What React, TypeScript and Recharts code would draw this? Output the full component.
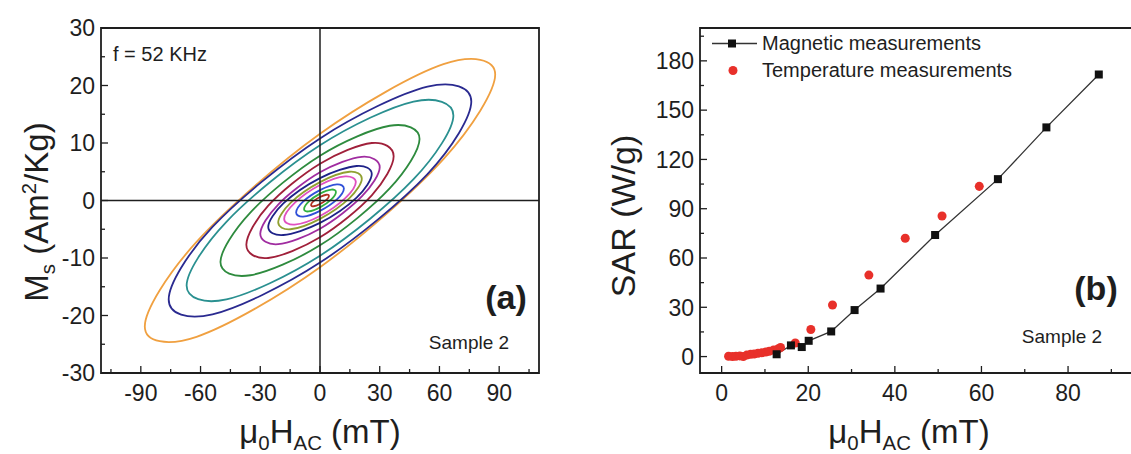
import React from "react";
import {
  ComposedChart,
  Line,
  Scatter,
  XAxis,
  YAxis,
  ReferenceLine,
  ReferenceArea,
  Legend,
} from "recharts";

// (a) M-H loops at f = 52 kHz, outermost loop first. [H (mT), M (Am2/Kg)]
const loopOrange = [[88, 21.9], [62, 23.7], [0, 11.6], [-62, -7.2], [-88, -21.9], [-62, -23.7], [0, -11.6], [62, 7.2]];
const loopNavy = [[76, 17.2], [54, 19.8], [0, 10.8], [-54, -4.6], [-76, -17.2], [-54, -19.8], [0, -10.8], [54, 4.6]];
const loopTeal = [[67, 14.8], [47, 17.2], [0, 9.6], [-47, -3.7], [-67, -14.8], [-47, -17.2], [0, -9.6], [47, 3.7]];
const loopGreen = [[50, 10.7], [35, 13.0], [0, 7.8], [-35, -2.1], [-50, -10.7], [-35, -13.0], [0, -7.8], [35, 2.1]];
const loopMaroon = [[37, 7.7], [26, 10.0], [0, 6.4], [-26, -0.9], [-37, -7.7], [-26, -10.0], [0, -6.4], [26, 0.9]];
const loopPurple = [[30, 5.8], [21, 7.6], [0, 4.9], [-21, -0.7], [-30, -5.8], [-21, -7.6], [0, -4.9], [21, 0.7]];
const loopDarkBlue = [[26, 4.6], [18.4, 6.0], [0, 3.9], [-18.4, -0.5], [-26, -4.6], [-18.4, -6.0], [0, -3.9], [18.4, 0.5]];
const loopOlive = [[21, 3.8], [14.8, 5.0], [0, 3.2], [-14.8, -0.4], [-21, -3.8], [-14.8, -5.0], [0, -3.2], [14.8, 0.4]];
const loopPink = [[18, 3.2], [12.7, 4.2], [0, 2.7], [-12.7, -0.4], [-18, -3.2], [-12.7, -4.2], [0, -2.7], [12.7, 0.4]];
const loopBlue = [[12, 2.1], [8.5, 2.8], [0, 1.8], [-8.5, -0.2], [-12, -2.1], [-8.5, -2.8], [0, -1.8], [8.5, 0.2]];
const loopLime = [[8, 1.5], [5.7, 1.9], [0, 1.2], [-5.7, -0.2], [-8, -1.5], [-5.7, -1.9], [0, -1.2], [5.7, 0.2]];
const loopRed = [[4.5, 0.8], [3.2, 1.0], [0, 0.6], [-3.2, -0.1], [-4.5, -0.8], [-3.2, -1.0], [0, -0.6], [3.2, 0.1]];

const loops = [
  loopOrange, loopNavy, loopTeal, loopGreen, loopMaroon, loopPurple,
  loopDarkBlue, loopOlive, loopPink, loopBlue, loopLime, loopRed,
];
const loopColors = [
  "#f0a040", "#2a2a90", "#2a9090", "#2e8b3e", "#a0203a", "#a02ca0",
  "#1e2288", "#90a030", "#e050c0", "#3050d8", "#30b040", "#b03020",
];

// (b) SAR vs field amplitude
const magH = [12.7, 16.0, 18.5, 20.1, 25.3, 30.7, 36.7, 49.3, 63.8, 75.0, 87.1];
const magSAR = [1.4, 6.8, 5.8, 9.6, 15.3, 28.3, 41.4, 74.0, 108.0, 139.5, 171.7];
const tempH = [1.6, 2.5, 3.3, 4.2, 5.0, 5.8, 6.7, 7.5, 8.4, 9.3, 10.2, 11.0, 12.0, 13.0, 13.6, 17.0, 20.6, 25.6, 34.0, 42.4, 50.9, 59.5];
const tempSAR = [0.2, 0.0, 0.2, 0.4, 0.0, 0.9, 1.4, 1.5, 2.0, 2.3, 2.8, 3.2, 4.0, 4.6, 5.5, 8.3, 16.5, 31.4, 49.6, 72.0, 85.6, 103.6];

// ticks
const hAMajor = [-90, -60, -30, 0, 30, 60, 90];
const hAMinor = [-105, -75, -45, -15, 15, 45, 75, 105];
const mAMajor = [-30, -20, -10, 0, 10, 20, 30];
const mAMinor = [-25, -15, -5, 5, 15, 25];
const hBMajor = [0, 20, 40, 60, 80];
const hBMinor = [10, 30, 50, 70, 90];
const sarMajor = [0, 30, 60, 90, 120, 150, 180];
const sarMinor = [15, 45, 75, 105, 135, 165, 195];

const ink = "#1e1e1e";
const font = "'Liberation Sans', Arial, Helvetica, sans-serif";
const sorted = (a: number[], b: number[]) => [...a, ...b].sort((p, q) => p - q);

const loopData = loops.map((l) => l.map(([x, y]) => ({ x, y })));
const magData = magH.map((x, i) => ({ x, y: magSAR[i] }));
const tempData = tempH.map((x, i) => ({ x, y: tempSAR[i] }));

// closed Catmull-Rom curve, so each loop is drawn smooth through its read points
const closedCurve = (context: any) => {
  let pts: number[][] = [];
  return {
    areaStart() {},
    areaEnd() {},
    lineStart() {
      pts = [];
    },
    point(x: number, y: number) {
      pts.push([+x, +y]);
    },
    lineEnd() {
      const n = pts.length;
      if (n < 3) return;
      context.moveTo(pts[0][0], pts[0][1]);
      for (let i = 0; i < n; i++) {
        const p0 = pts[(i + n - 1) % n];
        const p1 = pts[i];
        const p2 = pts[(i + 1) % n];
        const p3 = pts[(i + 2) % n];
        context.bezierCurveTo(
          p1[0] + (p2[0] - p0[0]) / 6,
          p1[1] + (p2[1] - p0[1]) / 6,
          p2[0] - (p3[0] - p1[0]) / 6,
          p2[1] - (p3[1] - p1[1]) / 6,
          p2[0],
          p2[1]
        );
      }
      context.closePath();
    },
  };
};

// inward ticks, labels only on the majors
const makeTick = (majors: number[], side: "left" | "bottom") => (props: any) => {
  const { x, y, payload } = props;
  const v = payload.value;
  const major = majors.includes(v);
  const len = major ? 7 : 4;
  if (side === "left") {
    return (
      <g>
        <line x1={x} y1={y} x2={x + len} y2={y} stroke={ink} strokeWidth={1.3} />
        {major && (
          <text x={x - 6} y={y} dy="0.36em" textAnchor="end" fontSize={23} fill={ink} fontFamily={font}>
            {v}
          </text>
        )}
      </g>
    );
  }
  return (
    <g>
      <line x1={x} y1={y} x2={x} y2={y - len} stroke={ink} strokeWidth={1.3} />
      {major && (
        <text x={x} y={y + 28} textAnchor="middle" fontSize={23} fill={ink} fontFamily={font}>
          {v}
        </text>
      )}
    </g>
  );
};

function SarLegend({ payload }: any) {
  return (
    <div style={{ fontSize: 20, color: ink, fontFamily: font }}>
      {(payload || []).map((p: any) => (
        <div key={p.value} style={{ display: "flex", alignItems: "center", height: 27 }}>
          <svg width={50} height={27}>
            {p.type === "square" ? (
              <g>
                <line x1={0} y1={13.5} x2={45} y2={13.5} stroke="#333" strokeWidth={1.3} />
                <rect x={16} y={9.5} width={8} height={8} fill="#111" />
              </g>
            ) : (
              <circle cx={21} cy={13.5} r={4.5} fill="#e8302a" />
            )}
          </svg>
          <span>{p.value}</span>
        </div>
      ))}
    </div>
  );
}

const sub = { fontSize: "0.62em", position: "relative" as const, top: "0.35em" };
const sup = { fontSize: "0.62em", position: "relative" as const, top: "-0.6em" };

function Txt({ x, y, size, bold, rotate, children }: any) {
  return (
    <div
      style={{
        position: "absolute",
        left: x,
        top: y,
        transform: `translate(-50%, -50%)${rotate ? " rotate(-90deg)" : ""}`,
        fontSize: size,
        fontWeight: bold ? 700 : 400,
        lineHeight: 1,
        whiteSpace: "nowrap",
        color: ink,
        fontFamily: font,
      }}
    >
      {children}
    </div>
  );
}

const fieldTitle = (
  <>
    μ<span style={sub}>0</span>H<span style={sub}>AC</span> (mT)
  </>
);

export default function App() {
  return (
    <div
      style={{
        position: "absolute",
        left: 0,
        top: 0,
        width: 1131,
        height: 454,
        overflow: "hidden",
        background: "#fff",
        fontFamily: font,
      }}
    >
      <div style={{ position: "absolute", left: 0, top: 0 }}>
        <ComposedChart width={560} height={454} margin={{ top: 28, right: 21, bottom: 0, left: 0 }}>
          <XAxis
            type="number"
            dataKey="x"
            domain={[-110, 110]}
            ticks={sorted(hAMajor, hAMinor)}
            interval={0}
            axisLine={false}
            tickLine={false}
            tickSize={0}
            tickMargin={0}
            height={81}
            tick={makeTick(hAMajor, "bottom")}
          />
          <YAxis
            type="number"
            dataKey="y"
            domain={[-30, 30]}
            ticks={sorted(mAMajor, mAMinor)}
            interval={0}
            axisLine={false}
            tickLine={false}
            tickSize={0}
            tickMargin={0}
            width={101}
            tick={makeTick(mAMajor, "left")}
          />
          {loopData.map((d, i) => (
            <Line
              key={i}
              data={d}
              dataKey="y"
              type={closedCurve as any}
              stroke={loopColors[i]}
              strokeWidth={1.8}
              dot={false}
              activeDot={false}
              isAnimationActive={false}
            />
          ))}
          <ReferenceLine x={0} stroke={ink} strokeWidth={1.5} />
          <ReferenceLine y={0} stroke={ink} strokeWidth={1.5} />
          <ReferenceArea x1={-110} x2={110} y1={-30} y2={30} fill="none" stroke={ink} strokeWidth={1.8} />
        </ComposedChart>
      </div>

      <div style={{ position: "absolute", left: 560, top: 0 }}>
        <ComposedChart width={580} height={454} margin={{ top: 28, right: 7, bottom: 0, left: 0 }}>
          <XAxis
            type="number"
            dataKey="x"
            domain={[-5, 95]}
            ticks={sorted(hBMajor, hBMinor)}
            interval={0}
            axisLine={false}
            tickLine={false}
            tickSize={0}
            tickMargin={0}
            height={81}
            tick={makeTick(hBMajor, "bottom")}
          />
          <YAxis
            type="number"
            dataKey="y"
            domain={[-10, 200]}
            ticks={sorted(sarMajor, sarMinor)}
            interval={0}
            axisLine={false}
            tickLine={false}
            tickSize={0}
            tickMargin={0}
            width={140}
            tick={makeTick(sarMajor, "left")}
          />
          <Legend
            layout="vertical"
            align="center"
            verticalAlign="middle"
            wrapperStyle={{ left: 152, top: 30, width: "auto", height: "auto" }}
            content={<SarLegend />}
          />
          <Line
            name="Magnetic measurements"
            data={magData}
            dataKey="y"
            type="linear"
            stroke="#333"
            strokeWidth={1.3}
            legendType="square"
            activeDot={false}
            dot={(p: any) => (
              <rect key={`m${p.index}`} x={p.cx - 4} y={p.cy - 4} width={8} height={8} fill="#111" />
            )}
            isAnimationActive={false}
          />
          <Scatter
            name="Temperature measurements"
            data={tempData}
            dataKey="y"
            fill="#e8302a"
            shape="circle"
            legendType="circle"
            isAnimationActive={false}
          />
          <ReferenceArea x1={-5} x2={95} y1={-10} y2={200} fill="none" stroke={ink} strokeWidth={1.8} />
        </ComposedChart>
      </div>

      {/* panel (a) texts */}
      <Txt x={36} y={212} size={33} rotate>
        M<span style={sub}>s</span> (Am<span style={sup}>2</span>/Kg)
      </Txt>
      <Txt x={320} y={431} size={33}>
        {fieldTitle}
      </Txt>
      <div style={{ position: "absolute", left: 113, top: 44, fontSize: 20, color: ink, lineHeight: 1 }}>
        f = 52 KHz
      </div>
      <Txt x={506} y={297} size={34} bold>
        (a)
      </Txt>
      <Txt x={469} y={342} size={19}>
        Sample 2
      </Txt>

      {/* panel (b) texts */}
      <Txt x={623} y={216} size={34} rotate>
        SAR (W/g)
      </Txt>
      <Txt x={909} y={431} size={33}>
        {fieldTitle}
      </Txt>
      <Txt x={1096} y={288} size={34} bold>
        (b)
      </Txt>
      <Txt x={1062} y={336} size={19}>
        Sample 2
      </Txt>
    </div>
  );
}
